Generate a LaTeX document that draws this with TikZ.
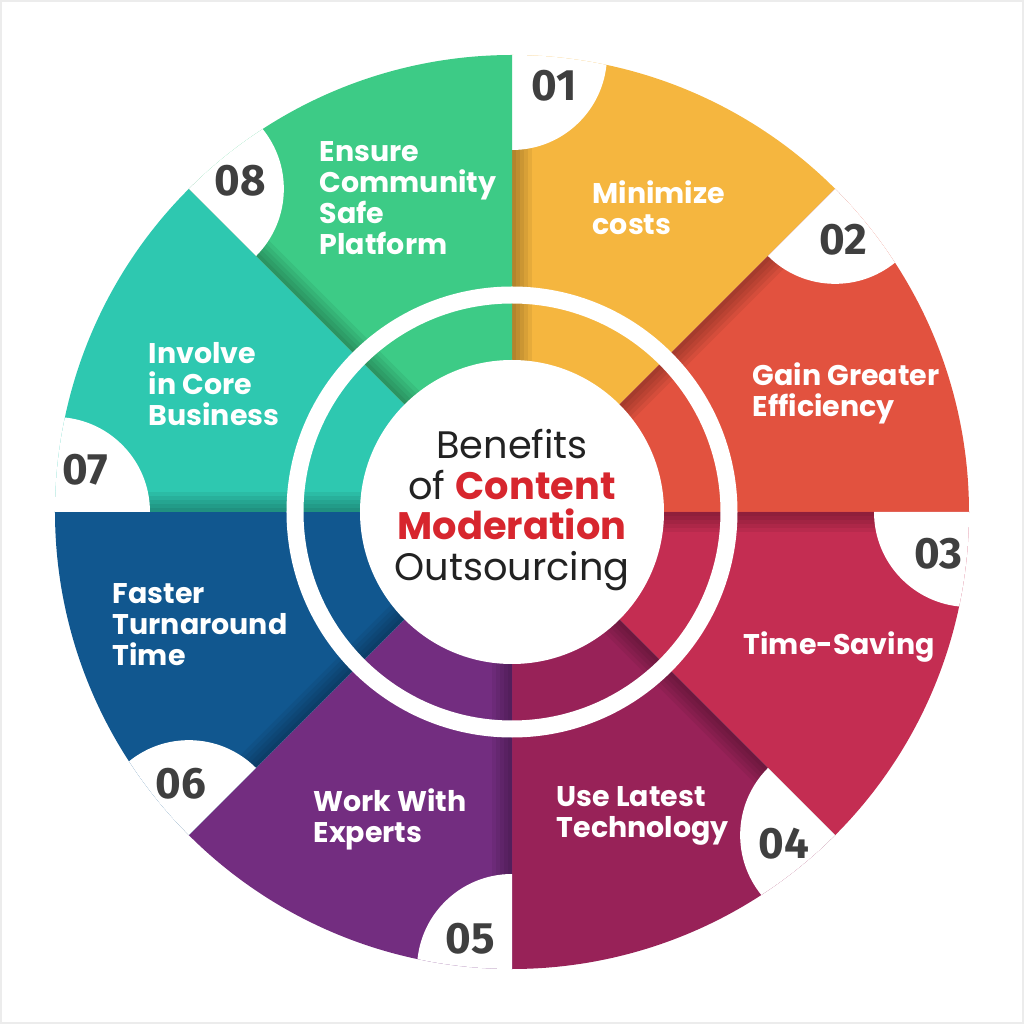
\documentclass[tikz,border=0pt]{standalone}
\usepackage{fontspec}
\setmainfont{Poppins}
\newfontfamily\numfont{Fira Sans}
\usetikzlibrary{calc}

\definecolor{segA}{HTML}{F5B63F}
\definecolor{segB}{HTML}{E2523F}
\definecolor{segC}{HTML}{C42D52}
\definecolor{segD}{HTML}{982258}
\definecolor{segE}{HTML}{732D80}
\definecolor{segF}{HTML}{11578F}
\definecolor{segG}{HTML}{2EC8B0}
\definecolor{segH}{HTML}{3DCB86}
\definecolor{numgray}{HTML}{3F3F3F}
\definecolor{titlered}{HTML}{D7262E}
\definecolor{titlegray}{HTML}{222222}

\tikzset{
  seglabel/.style={anchor=west, align=left, inner sep=0pt, text=white, font=\bfseries\fontsize{8.1}{8.8}\selectfont},
  segnum/.style={text=numgray, font=\numfont\bfseries\fontsize{12.5}{13}\selectfont},
}

\begin{document}
\begin{tikzpicture}[x=0.1mm, y=0.1mm]
  \useasboundingbox (-512,-512) rectangle (512,512);
  \draw[gray!15, line width=0.2mm] (-511,-511) rectangle (511,511);

  % segments, clockwise from the top
  \foreach \i/\a/\col in {1/90/segA, 2/45/segB, 3/0/segC, 4/-45/segD,
                          5/-90/segE, 6/-135/segF, 7/180/segG, 8/135/segH} {
    \begin{scope}
      \clip (0,0) -- (\a:457) arc[start angle=\a, end angle=\a-45, radius=457] -- cycle;
      \fill[\col] (-512,-512) rectangle (512,512);
      \foreach \w in {4,8,...,20}
        \fill[black, opacity=0.06, rotate=\a] (0,0) rectangle (457,-\w);
      \fill[white] (\a:457) circle[radius=95];
    \end{scope}
  }

  % ring and hub
  \draw[white, line width=1.7mm] (0,0) circle[radius=217];
  \fill[white] (0,0) circle[radius=152];

  \node[font=\fontsize{10.9}{11.6}\selectfont, align=center, text=titlegray] (title) at (0,2)
    {Benefits\\of {\bfseries\color{titlered}Content}\\{\bfseries\color{titlered}Moderation}\\Outsourcing};

  % labels
  \foreach \i/\pos/\txt in {1/{80,304}/{Minimize\\costs},
                            2/{240,119}/{Gain Greater\\Efficiency},
                            3/{231,-135}/{Time-Saving},
                            4/{44,-304}/{Use Latest\\Technology},
                            5/{-199,-307}/{Work With\\Experts},
                            6/{-400,-113}/{Faster\\Turnaround\\Time},
                            7/{-364,128}/{Involve\\in Core\\Business},
                            8/{-193,314}/{Ensure\\Community\\Safe\\Platform}}
    \node[seglabel] (lbl\i) at (\pos) {\txt};

  % numbers in the notches
  \foreach \i/\a in {1/90, 2/45, 3/0, 4/-45, 5/-90, 6/-135, 7/180, 8/135}
    \node[segnum] (num\i) at ($(\a:457)+(\a-126:52)$) {0\i};
\end{tikzpicture}
\end{document}
